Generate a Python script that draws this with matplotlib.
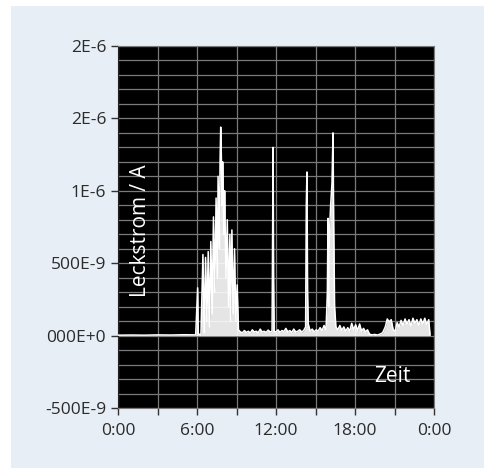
import numpy as np
import matplotlib
matplotlib.use('Agg')
import matplotlib.pyplot as plt
from matplotlib.patches import Rectangle
from matplotlib.ticker import MultipleLocator, FixedLocator, FixedFormatter

plt.rcParams['font.family'] = ['Open Sans', 'DejaVu Sans']

# time of day in hours, leakage current in nA
hours = [0.0, 1.0, 2.0, 3.0, 4.0, 5.0, 5.9,
         6.05, 6.1, 6.3, 6.45, 6.55, 6.65, 6.75, 6.85, 6.95, 7.05, 7.15, 7.25,
         7.35, 7.45, 7.55, 7.6, 7.7, 7.75, 7.8, 7.85, 7.9, 7.95, 8.05, 8.1,
         8.2, 8.3, 8.4, 8.5, 8.55, 8.65, 8.75, 8.85, 8.95, 9.05, 9.15,
         9.3, 9.45, 9.6, 9.75, 9.9, 10.05, 10.2, 10.35, 10.5, 10.65, 10.8,
         10.95, 11.1, 11.25, 11.4, 11.55, 11.7, 11.75, 11.78, 11.82, 11.86,
         12.0, 12.15, 12.3, 12.45, 12.6, 12.75, 12.9, 13.05, 13.2, 13.35,
         13.5, 13.65, 13.8, 13.95, 14.1, 14.25, 14.3, 14.35, 14.4, 14.45,
         14.6, 14.75, 14.9, 15.05, 15.2, 15.35, 15.5, 15.65, 15.8, 15.9,
         15.95, 16.0, 16.05, 16.15, 16.25, 16.33, 16.38, 16.45, 16.55, 16.7,
         16.85, 17.0, 17.15, 17.3, 17.45, 17.6, 17.75, 17.9, 18.05, 18.2,
         18.35, 18.5, 18.65, 18.8, 18.95, 19.1, 19.3, 19.5, 19.7, 19.9,
         20.1, 20.3, 20.45, 20.6, 20.75, 20.9, 21.05, 21.2, 21.35, 21.5,
         21.65, 21.8, 21.95, 22.1, 22.25, 22.4, 22.55, 22.7, 22.85, 23.0,
         23.15, 23.3, 23.45, 23.6, 23.7]
current_nA = [3, 4, 3, 5, 4, 6, 5,
              330, 10, 8, 560, 20, 540, 100, 580, 60, 650, 150, 820,
              300, 950, 400, 1100, 600, 1200, 1440, 1240, 900, 1200, 700, 1000,
              400, 800, 200, 700, 100, 730, 150, 600, 100, 350, 40,
              25, 20, 35, 22, 30, 18, 40, 25, 30, 20, 45,
              25, 30, 22, 38, 25, 30, 810, 1300, 400, 30,
              25, 40, 22, 35, 28, 50, 25, 35, 22, 45,
              25, 30, 40, 25, 35, 60, 900, 1130, 300, 80,
              30, 45, 25, 40, 30, 55, 35, 70, 40, 300,
              810, 200, 700, 900, 1050, 1400, 800, 200, 60, 40,
              70, 35, 60, 30, 55, 30, 85, 40, 75, 35,
              80, 30, 50, 25, 40, 10, 5, 8, 4, 10,
              20, 60, 115, 95, 110, 40, 30, 90, 60, 105,
              70, 115, 80, 110, 65, 120, 85, 110, 70, 115,
              80, 120, 75, 110, 5]

ytick_vals = [-500e-9, 0, 500e-9, 1e-6, 1.5e-6, 2e-6]
ytick_labels = ['-500E-9', '000E+0', '500E-9', '1E-6', '2E-6', '2E-6']
xtick_vals = [0, 6, 12, 18, 24]
xtick_labels = ['0:00', '6:00', '12:00', '18:00', '0:00']

fig = plt.figure(figsize=(4.84, 4.68), dpi=100, facecolor='white')
fig.patches.append(Rectangle((11 / 484, 0), 1, 462 / 468, transform=fig.transFigure,
                             facecolor='#e7eef6', edgecolor='none', zorder=-10))

ax = fig.add_axes([118 / 484, 60 / 468, 316 / 484, 362 / 468])
ax.set_zorder(5)
ax.set_facecolor('black')

t = np.array(hours)
v = np.array(current_nA) * 1e-9
ax.fill_between(t, 0, v, color='white', alpha=0.9, lw=0, zorder=2)
ax.plot(t, v, color='white', lw=1.1, zorder=3)

ax.set_xlim(0, 24)
ax.set_ylim(-500e-9, 2e-6)

ax.yaxis.set_major_locator(FixedLocator(ytick_vals))
ax.yaxis.set_major_formatter(FixedFormatter(ytick_labels))
ax.yaxis.set_minor_locator(MultipleLocator(100e-9))
ax.xaxis.set_major_locator(FixedLocator(xtick_vals))
ax.xaxis.set_major_formatter(FixedFormatter(xtick_labels))
ax.xaxis.set_minor_locator(MultipleLocator(3))

ax.grid(True, which='both', color='#7a7a7a', lw=0.9, zorder=1)
ax.set_axisbelow(True)
ax.tick_params(axis='both', which='major', direction='out', length=5, width=1,
               color='#333333', labelcolor='#2b2b2b', labelsize=12.5)
ax.tick_params(axis='x', which='major', pad=6)
ax.tick_params(axis='x', which='minor', direction='out', length=5, width=1, color='#333333')
ax.tick_params(axis='y', which='minor', length=0)
for s in ['top', 'right', 'bottom']:
    ax.spines[s].set_color('#7a7a7a')
ax.spines['left'].set_color('#222222')

ax.text(0.07, 0.49, 'Leckstrom / A', transform=ax.transAxes, rotation=90,
        color='white', fontsize=15, ha='center', va='center')
ax.text(0.87, 0.088, 'Zeit', transform=ax.transAxes, color='white',
        fontsize=15, ha='center', va='center')

fig.savefig('out.png', dpi=100, facecolor='white')
